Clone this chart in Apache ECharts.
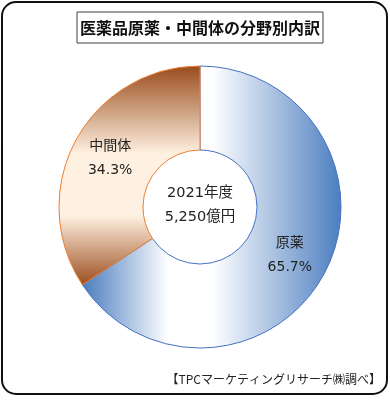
<!DOCTYPE html>
<html>
<head>
<meta charset="utf-8">
<script src="https://cdn.jsdelivr.net/npm/echarts@6/dist/echarts.min.js"></script>
<style>
html,body{margin:0;padding:0;background:#fff;}
#chart{width:390px;height:400px;}
</style>
</head>
<body>
<div id="chart"></div>
<script>
const categories = ['原薬', '中間体'];
const shares = [65.7, 34.3];
const titleText = '医薬品原薬・中間体の分野別内訳';
const centerLines = ['2021年度', '5,250億円'];
const sourceText = '【TPCマーケティングリサーチ㈱調べ】';

const FONT = '"Noto Sans CJK JP", "Noto Sans", sans-serif';
const FONT_NUM = '"DejaVu Sans", "Noto Sans CJK JP", sans-serif';

const blueFill = {
  type: 'linear', x: 83, y: 0, x2: 342, y2: 0, global: true,
  colorStops: [
    { offset: 0, color: '#4b7dc0' },
    { offset: 0.33, color: '#ffffff' },
    { offset: 0.5, color: '#ffffff' },
    { offset: 1, color: '#4b7dc0' }
  ]
};
const orangeFill = {
  type: 'linear', x: 0, y: 66, x2: 0, y2: 286, global: true,
  colorStops: [
    { offset: 0, color: '#9a4c1c' },
    { offset: 0.4, color: '#fff1e1' },
    { offset: 0.68, color: '#fff1e1' },
    { offset: 1, color: '#9a4c1c' }
  ]
};
const fills = [blueFill, orangeFill];
const borders = ['#4472c4', '#ed7d31'];

const chart = echarts.init(document.getElementById('chart'), null, { renderer: 'canvas' });
chart.setOption({
  backgroundColor: '#ffffff',
  animation: false,
  series: [{
    type: 'pie',
    center: [200, 207],
    radius: [57, 141],
    startAngle: 90,
    clockwise: true,
    avoidLabelOverlap: false,
    data: categories.map((c, i) => ({
      name: c,
      value: shares[i],
      itemStyle: { color: fills[i], borderColor: borders[i], borderWidth: 1 }
    })),
    label: {
      show: true,
      position: 'inside',
      formatter: '{b}\n{c}%',
      fontFamily: FONT_NUM,
      fontSize: 14,
      lineHeight: 24,
      padding: [7, 0, 0, 0],
      color: '#222'
    },
    labelLine: { show: false },
    emphasis: { disabled: true }
  }],
  graphic: [
    {
      type: 'rect', z: 0,
      shape: { x: 2, y: 2, width: 385, height: 392, r: 14 },
      style: { fill: 'none', stroke: '#111', lineWidth: 2 }
    },
    {
      type: 'rect', z: 10,
      shape: { x: 77, y: 12, width: 246, height: 31 },
      style: { fill: '#fff', stroke: '#404040', lineWidth: 1 }
    },
    {
      type: 'text', z: 11, x: 200, y: 28,
      style: { text: titleText, fontFamily: FONT, fontSize: 16, fontWeight: 'bold', fill: '#111', align: 'center', verticalAlign: 'middle' }
    },
    {
      type: 'text', z: 11, x: 200, y: 205,
      style: { text: centerLines.join('\n'), fontFamily: FONT_NUM, fontSize: 14.5, lineHeight: 24, fill: '#222', align: 'center', verticalAlign: 'middle' }
    },
    {
      type: 'text', z: 11, x: 381, y: 379,
      style: { text: sourceText, fontFamily: FONT, fontSize: 12, fill: '#222', align: 'right', verticalAlign: 'middle' }
    }
  ]
});
</script>
</body>
</html>
